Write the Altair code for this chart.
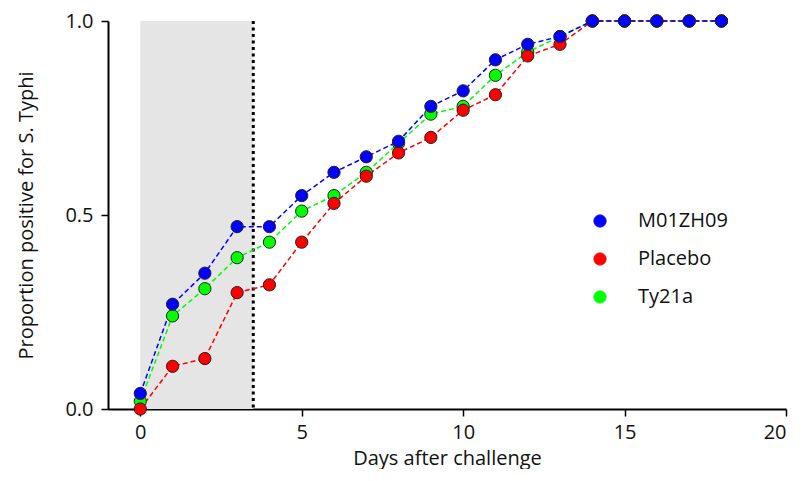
import altair as alt
import pandas as pd

days = list(range(0, 19))
m01zh09 = [0.04, 0.27, 0.35, 0.47, 0.47, 0.55, 0.61, 0.65, 0.69, 0.78, 0.82, 0.90, 0.94, 0.96, 1.0, 1.0, 1.0, 1.0, 1.0]
placebo = [0.00, 0.11, 0.13, 0.30, 0.32, 0.43, 0.53, 0.60, 0.66, 0.70, 0.77, 0.81, 0.91, 0.94, 1.0, 1.0, 1.0, 1.0, 1.0]
ty21a = [0.02, 0.24, 0.31, 0.39, 0.43, 0.51, 0.55, 0.61, 0.685, 0.76, 0.78, 0.86, 0.92, 0.96, 1.0, 1.0, 1.0, 1.0, 1.0]

groups = ["M01ZH09", "Placebo", "Ty21a"]
colors = ["#0000ff", "#ff0000", "#00ff00"]

shade_start = [0.0]
shade_end = [3.5]
cutoff_day = [3.5]

rows = []
for name, vals in [("Ty21a", ty21a), ("Placebo", placebo), ("M01ZH09", m01zh09)]:
    for d, v in zip(days, vals):
        rows.append({"day": d, "prop": v, "group": name})
df = pd.DataFrame(rows)

FONT = "Open Sans"

xscale = alt.Scale(domain=[-1, 20], nice=False, zero=False)
yscale = alt.Scale(domain=[0, 1], nice=False)
cscale = alt.Scale(domain=groups, range=colors)

legend = alt.Legend(title=None, orient="none", legendX=482, legendY=190,
                    symbolType="circle", symbolSize=150, symbolFillColor=None,
                    symbolStrokeColor="#222222", symbolStrokeWidth=1, symbolOpacity=1,
                    labelFontSize=20, labelFont=FONT, labelColor="#111111",
                    labelOffset=28, rowPadding=18)

shade = alt.Chart(pd.DataFrame({"x": shade_start, "x2": shade_end, "y": [0.0], "y2": [1.0]})).mark_rect(
    color="#e5e5e5"
).encode(
    x=alt.X("x:Q", scale=xscale,
            axis=alt.Axis(values=[0, 5, 10, 15, 20], title="Days after challenge",
                          titleY=59, titleBaseline="bottom")),
    x2="x2:Q",
    y=alt.Y("y:Q", scale=yscale,
            axis=alt.Axis(values=[0, 0.5, 1.0], format=".1f", title="Proportion positive for S. Typhi")),
    y2="y2:Q",
)

cut = alt.Chart(pd.DataFrame({"x": cutoff_day})).mark_rule(
    color="black", strokeWidth=3, strokeDash=[3, 3.5]
).encode(x=alt.X("x:Q", scale=xscale))

lines = alt.Chart(df).mark_line(strokeWidth=1.5, strokeDash=[5, 3]).encode(
    x=alt.X("day:Q", scale=xscale),
    y=alt.Y("prop:Q", scale=yscale),
    color=alt.Color("group:N", scale=cscale, legend=legend),
    detail="group:N",
)

points = alt.Chart(df).mark_point(
    filled=True, size=150, stroke="#222222", strokeWidth=1, opacity=1
).encode(
    x=alt.X("day:Q", scale=xscale),
    y=alt.Y("prop:Q", scale=yscale),
    fill=alt.Fill("group:N", scale=cscale, legend=legend),
)

chart = alt.layer(shade, cut, lines, points).properties(
    width=678, height=388,
    autosize=alt.AutoSizeParams(type="none"),
    padding={"left": 100, "top": 13, "right": 12, "bottom": 60},
).configure_view(stroke=None).configure_axis(
    grid=False,
    domainColor="black", domainWidth=2,
    tickColor="black", tickWidth=1.5, tickSize=7,
    labelFont=FONT, labelFontSize=20, labelColor="#111111", labelPadding=6,
    titleFont=FONT, titleFontSize=20, titleColor="#111111", titleFontWeight="normal",
).configure_axisY(titlePadding=28, labelPadding=8)

chart.save("out.html", embed_options={"renderer": "svg", "actions": False})
